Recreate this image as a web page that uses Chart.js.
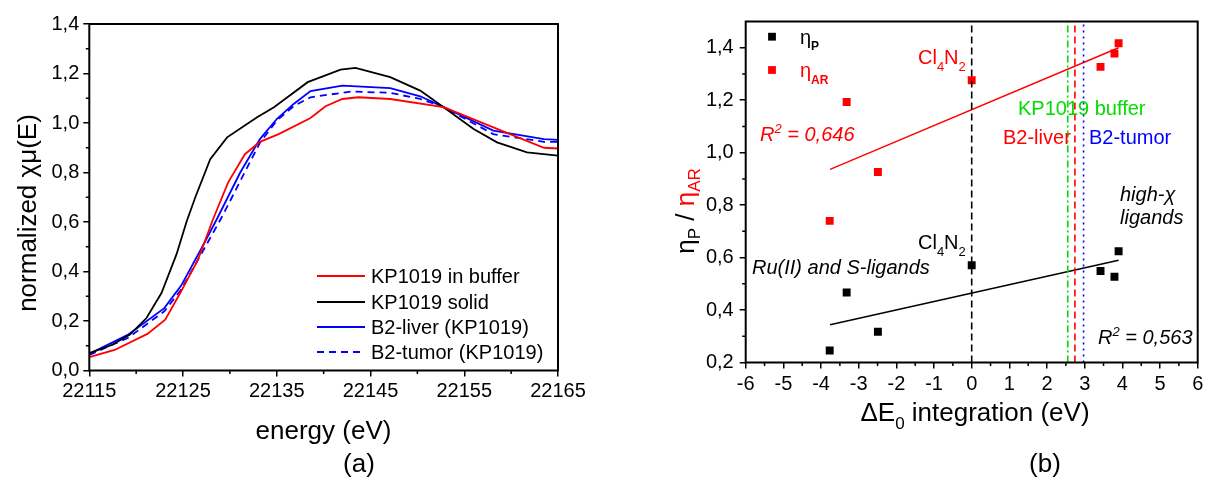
<!DOCTYPE html>
<html><head><meta charset="utf-8">
<script src="https://cdn.jsdelivr.net/npm/chart.js@4.4.1/dist/chart.umd.min.js"></script>
<style>
html,body{margin:0;padding:0;background:#fff;}
body{width:1209px;height:479px;position:relative;overflow:hidden;}
canvas{position:absolute;top:0;}
#ca{left:0}
#cb{left:600px}
</style></head><body>
<canvas id="ca" width="600" height="479"></canvas>
<canvas id="cb" width="609" height="479"></canvas>
<script>
// ---------- Panel (a) data ----------
const energyBuffer = [22115, 22117.7, 22121.2, 22123.1, 22124.7, 22126.6, 22128.2, 22129.8, 22131.6, 22133.2, 22135.2, 22138.6, 22140.2, 22142.0, 22143.7, 22147.1, 22152.8, 22158.5, 22163.5, 22165];
const muBuffer     = [0.054, 0.083, 0.148, 0.205, 0.313, 0.448, 0.611, 0.759, 0.874, 0.924, 0.955, 1.020, 1.068, 1.097, 1.104, 1.097, 1.064, 0.976, 0.900, 0.897];
const energySolid  = [22115, 22117.4, 22119.3, 22121.1, 22122.7, 22124.3, 22125.4, 22126.3, 22127.9, 22129.7, 22132.9, 22134.7, 22138.3, 22141.8, 22143.4, 22147.1, 22150.3, 22152.8, 22156.0, 22158.5, 22161.7, 22165];
const muSolid      = [0.070, 0.103, 0.144, 0.212, 0.313, 0.469, 0.604, 0.699, 0.854, 0.942, 1.023, 1.064, 1.165, 1.216, 1.223, 1.185, 1.131, 1.064, 0.976, 0.922, 0.881, 0.868];
const energyLiver  = [22115, 22119.1, 22123.0, 22124.8, 22127.0, 22128.6, 22131.1, 22133.2, 22135.0, 22136.8, 22138.6, 22142.0, 22147.1, 22150.3, 22152.8, 22158.1, 22163.5, 22165];
const muLiver      = [0.067, 0.144, 0.252, 0.343, 0.496, 0.611, 0.800, 0.935, 1.016, 1.077, 1.129, 1.151, 1.141, 1.108, 1.064, 0.969, 0.935, 0.932];
const energyTumor  = [22115, 22119.1, 22123.0, 22124.8, 22127.0, 22129.1, 22131.3, 22133.2, 22135.0, 22136.8, 22138.6, 22142.9, 22147.1, 22150.3, 22152.8, 22158.1, 22163.5, 22165];
const muTumor      = [0.063, 0.131, 0.239, 0.327, 0.475, 0.617, 0.780, 0.920, 1.010, 1.068, 1.104, 1.127, 1.122, 1.097, 1.064, 0.955, 0.924, 0.924];
const seriesNamesA = ['KP1019 in buffer', 'KP1019 solid', 'B2-liver (KP1019)', 'B2-tumor (KP1019)'];
const xTicksA = [22115, 22125, 22135, 22145, 22155, 22165];
const yTicksA = [0, 0.2, 0.4, 0.6, 0.8, 1.0, 1.2, 1.4];

// ---------- Panel (b) data ----------
const deltaE0 = [-3.77, -3.32, -2.49, 0.0, 3.42, 3.79, 3.90];
const etaP    = [0.246, 0.467, 0.317, 0.571, 0.549, 0.527, 0.624];
const etaAR   = [0.740, 1.193, 0.926, 1.276, 1.327, 1.378, 1.417];
const fitX    = [-3.76, 3.90];
const fitP    = [0.344, 0.590];
const fitAR   = [0.936, 1.400];
const refLineNames = ['Cl4N2', 'KP1019 buffer', 'B2-liver', 'B2-tumor'];
const refLineX     = [0.0, 2.55, 2.74, 2.97];
const xTicksB = [-6,-5,-4,-3,-2,-1,0,1,2,3,4,5,6];
const yTicksB = [0.2, 0.4, 0.6, 0.8, 1.0, 1.2, 1.4];

const FAM = '"Liberation Sans", Arial, sans-serif';
const GREEN = '#00dd00';
Chart.defaults.font.family = FAM;
Chart.defaults.color = '#000';

const zip = (xs, ys) => xs.map((x, i) => ({x, y: ys[i]}));
const comma = v => (Math.round(v * 10) / 10).toFixed(1).replace('.', ',');

function fontOf(p) { return (p.italic ? 'italic ' : '') + (p.bold ? 'bold ' : '') + (p.size || 20) + 'px ' + FAM; }
function drawRich(ctx, parts, x, y, align) {
  let total = 0;
  const w = parts.map(p => { ctx.font = fontOf(p); const m = ctx.measureText(p.t).width; total += m; return m; });
  let cx = align === 'center' ? x - total / 2 : (align === 'right' ? x - total : x);
  ctx.textAlign = 'left';
  ctx.textBaseline = 'alphabetic';
  parts.forEach((p, i) => {
    ctx.font = fontOf(p);
    ctx.fillStyle = p.color || '#000';
    ctx.fillText(p.t, cx, y + (p.dy || 0));
    cx += w[i];
  });
}

function decorPlugin(minorX, minorY, extra) {
  return {
    id: 'decor',
    afterDatasetsDraw(chart) {
      const ctx = chart.ctx, a = chart.chartArea;
      const sx = chart.scales.x, sy = chart.scales.y;
      ctx.save();
      ctx.strokeStyle = '#000';
      ctx.lineWidth = 1.5;
      ctx.beginPath();
      minorX.forEach(v => { const px = sx.getPixelForValue(v); ctx.moveTo(px, a.bottom); ctx.lineTo(px, a.bottom + 3.5); });
      minorY.forEach(v => { const py = sy.getPixelForValue(v); ctx.moveTo(a.left, py); ctx.lineTo(a.left - 3.5, py); });
      ctx.stroke();
      ctx.lineWidth = 2;
      ctx.strokeRect(a.left, a.top, a.right - a.left, a.bottom - a.top);
      ctx.restore();
      ctx.save();
      extra(ctx, chart);
      ctx.restore();
    }
  };
}

const gridOpts = {display: true, drawOnChartArea: false, drawTicks: true, tickLength: 6, color: '#000', lineWidth: 1.5};

// ---------- Chart A ----------
const colorsA = ['#ff0000', '#000000', '#0000ff', '#0000ff'];
const dashA = [[], [], [], [7, 5]];
const dataA = [zip(energyBuffer, muBuffer), zip(energySolid, muSolid), zip(energyLiver, muLiver), zip(energyTumor, muTumor)];

new Chart(document.getElementById('ca'), {
  type: 'scatter',
  data: {
    datasets: dataA.map((d, i) => ({
      label: seriesNamesA[i], data: d, showLine: true, borderColor: colorsA[i], borderWidth: 1.8,
      borderDash: dashA[i], pointRadius: 0, tension: 0, fill: false
    }))
  },
  options: {
    responsive: false, animation: false, devicePixelRatio: 1,
    layout: {padding: {left: 0, right: 42, top: 24, bottom: 0}},
    plugins: {legend: {display: false}, tooltip: {enabled: false}},
    scales: {
      x: {
        type: 'linear', min: 22115, max: 22165,
        afterBuildTicks: s => { s.ticks = xTicksA.map(v => ({value: v})); },
        afterFit: s => { s.height = 479 - 370.5; },
        grid: gridOpts, border: {display: false},
        ticks: {font: {size: 20}, padding: 3, maxRotation: 0, autoSkip: false, callback: v => String(v)}
      },
      y: {
        type: 'linear', min: 0, max: 1.4,
        afterBuildTicks: s => { s.ticks = yTicksA.map(v => ({value: v})); },
        afterFit: s => { s.width = 89.3; },
        grid: gridOpts, border: {display: false},
        ticks: {font: {size: 20}, padding: 4, autoSkip: false, callback: v => comma(v)}
      }
    }
  },
  plugins: [decorPlugin(
    [22120, 22130, 22140, 22150, 22160],
    [0.1, 0.3, 0.5, 0.7, 0.9, 1.1, 1.3],
    (ctx, chart) => {
      const rows = [276, 302, 327, 352];
      rows.forEach((y, i) => {
        ctx.strokeStyle = colorsA[i];
        ctx.lineWidth = 1.8;
        ctx.setLineDash(dashA[i]);
        ctx.beginPath(); ctx.moveTo(317, y); ctx.lineTo(365, y); ctx.stroke();
        ctx.setLineDash([]);
        drawRich(ctx, [{t: seriesNamesA[i], size: 20}], 371, y + 7, 'left');
      });
      drawRich(ctx, [{t: 'energy (eV)', size: 26}], 323.5, 439, 'center');
      drawRich(ctx, [{t: '(a)', size: 26}], 359, 472, 'center');
      ctx.save();
      ctx.translate(36, 213);
      ctx.rotate(-Math.PI / 2);
      drawRich(ctx, [{t: 'normalized ', size: 26}, {t: 'χμ', size: 26}, {t: '(E)', size: 26}], 0, 0, 'center');
      ctx.restore();
    }
  )]
});

// ---------- Chart B ----------
const OX = 600;
const refColors = ['#000000', GREEN, '#ff0000', '#0000ff'];
const refDash = [[7, 4], [7, 3, 2, 3], [7, 4], [2, 4]];

new Chart(document.getElementById('cb'), {
  type: 'scatter',
  data: {
    datasets: [
      ...refLineX.map((x, i) => ({
        label: refLineNames[i], data: [{x, y: 0.2}, {x, y: 1.5}], showLine: true,
        borderColor: refColors[i], borderDash: refDash[i], borderWidth: 1.6, pointRadius: 0
      })),
      {label: 'fit ηAR', data: zip(fitX, fitAR), showLine: true, borderColor: '#ff0000', borderWidth: 1.4, pointRadius: 0},
      {label: 'fit ηP', data: zip(fitX, fitP), showLine: true, borderColor: '#000000', borderWidth: 1.4, pointRadius: 0},
      {label: 'ηP', data: zip(deltaE0, etaP), pointStyle: 'rect', pointRadius: 5.6, backgroundColor: '#000', borderWidth: 0},
      {label: 'ηAR', data: zip(deltaE0, etaAR), pointStyle: 'rect', pointRadius: 5.6, backgroundColor: '#ff0000', borderWidth: 0}
    ]
  },
  options: {
    responsive: false, animation: false, devicePixelRatio: 1,
    layout: {padding: {left: 0, right: 11.3, top: 21.5, bottom: 0}},
    plugins: {legend: {display: false}, tooltip: {enabled: false}},
    scales: {
      x: {
        type: 'linear', min: -6, max: 6,
        afterBuildTicks: s => { s.ticks = xTicksB.map(v => ({value: v})); },
        afterFit: s => { s.height = 479 - 362.5; },
        grid: gridOpts, border: {display: false},
        ticks: {font: {size: 20}, padding: 4, maxRotation: 0, autoSkip: false, callback: v => String(v)}
      },
      y: {
        type: 'linear', min: 0.2, max: 1.5,
        afterBuildTicks: s => { s.ticks = yTicksB.map(v => ({value: v})); },
        afterFit: s => { s.width = 145.7; },
        grid: gridOpts, border: {display: false},
        ticks: {font: {size: 20}, padding: 6, autoSkip: false, callback: v => comma(v)}
      }
    }
  },
  plugins: [decorPlugin(
    [-5.5,-4.5,-3.5,-2.5,-1.5,-0.5,0.5,1.5,2.5,3.5,4.5,5.5],
    [0.3, 0.5, 0.7, 0.9, 1.1, 1.3],
    (ctx, chart) => {
      const X = v => v - OX;
      ctx.fillStyle = '#000'; ctx.fillRect(X(772) - 3.9, 36.7 - 3.9, 7.8, 7.8);
      ctx.fillStyle = '#ff0000'; ctx.fillRect(X(772) - 3.9, 70 - 3.9, 7.8, 7.8);
      drawRich(ctx, [{t: 'η', size: 20}, {t: 'P', size: 12, bold: true, dy: 6}], X(800), 44, 'left');
      drawRich(ctx, [{t: 'η', size: 20, color: '#ff0000'}, {t: 'AR', size: 12, bold: true, dy: 7, color: '#ff0000'}], X(800), 77, 'left');
      const R = '#ff0000';
      drawRich(ctx, [{t: 'Cl', color: R}, {t: '4', size: 13, dy: 7, color: R}, {t: 'N', color: R}, {t: '2', size: 13, dy: 7, color: R}], X(918), 63.5, 'left');
      drawRich(ctx, [{t: 'R', italic: true, color: R}, {t: '2', size: 13, dy: -8, italic: true, color: R}, {t: ' = 0,646', italic: true, color: R}], X(760), 141, 'left');
      drawRich(ctx, [{t: 'KP1019 buffer', color: GREEN}], X(1018), 115, 'left');
      drawRich(ctx, [{t: 'B2-liver', color: R}], X(1003), 143.5, 'left');
      drawRich(ctx, [{t: 'B2-tumor', color: '#0000ff'}], X(1089), 143.5, 'left');
      drawRich(ctx, [{t: 'high-χ', italic: true}], X(1120), 201, 'left');
      drawRich(ctx, [{t: 'ligands', italic: true}], X(1120), 224, 'left');
      drawRich(ctx, [{t: 'Cl'}, {t: '4', size: 13, dy: 7}, {t: 'N'}, {t: '2', size: 13, dy: 7}], X(918), 249.3, 'left');
      drawRich(ctx, [{t: 'Ru(II) and S-ligands', italic: true}], X(752), 274, 'left');
      drawRich(ctx, [{t: 'R', italic: true}, {t: '2', size: 13, dy: -8, italic: true}, {t: ' = 0,563', italic: true}], X(1098), 344, 'left');
      drawRich(ctx, [{t: 'ΔE', size: 26}, {t: '0', size: 17, dy: 8}, {t: ' integration (eV)', size: 26}], X(975), 421, 'center');
      drawRich(ctx, [{t: '(b)', size: 26}], X(1045), 472, 'center');
      ctx.save();
      ctx.translate(X(694), 211);
      ctx.rotate(-Math.PI / 2);
      drawRich(ctx, [{t: 'η', size: 26}, {t: 'P', size: 17, dy: 6}, {t: ' / ', size: 26}, {t: 'η', size: 26, color: R}, {t: 'AR', size: 17, dy: 6, color: R}], 0, 0, 'center');
      ctx.restore();
    }
  )]
});
</script>
</body></html>
